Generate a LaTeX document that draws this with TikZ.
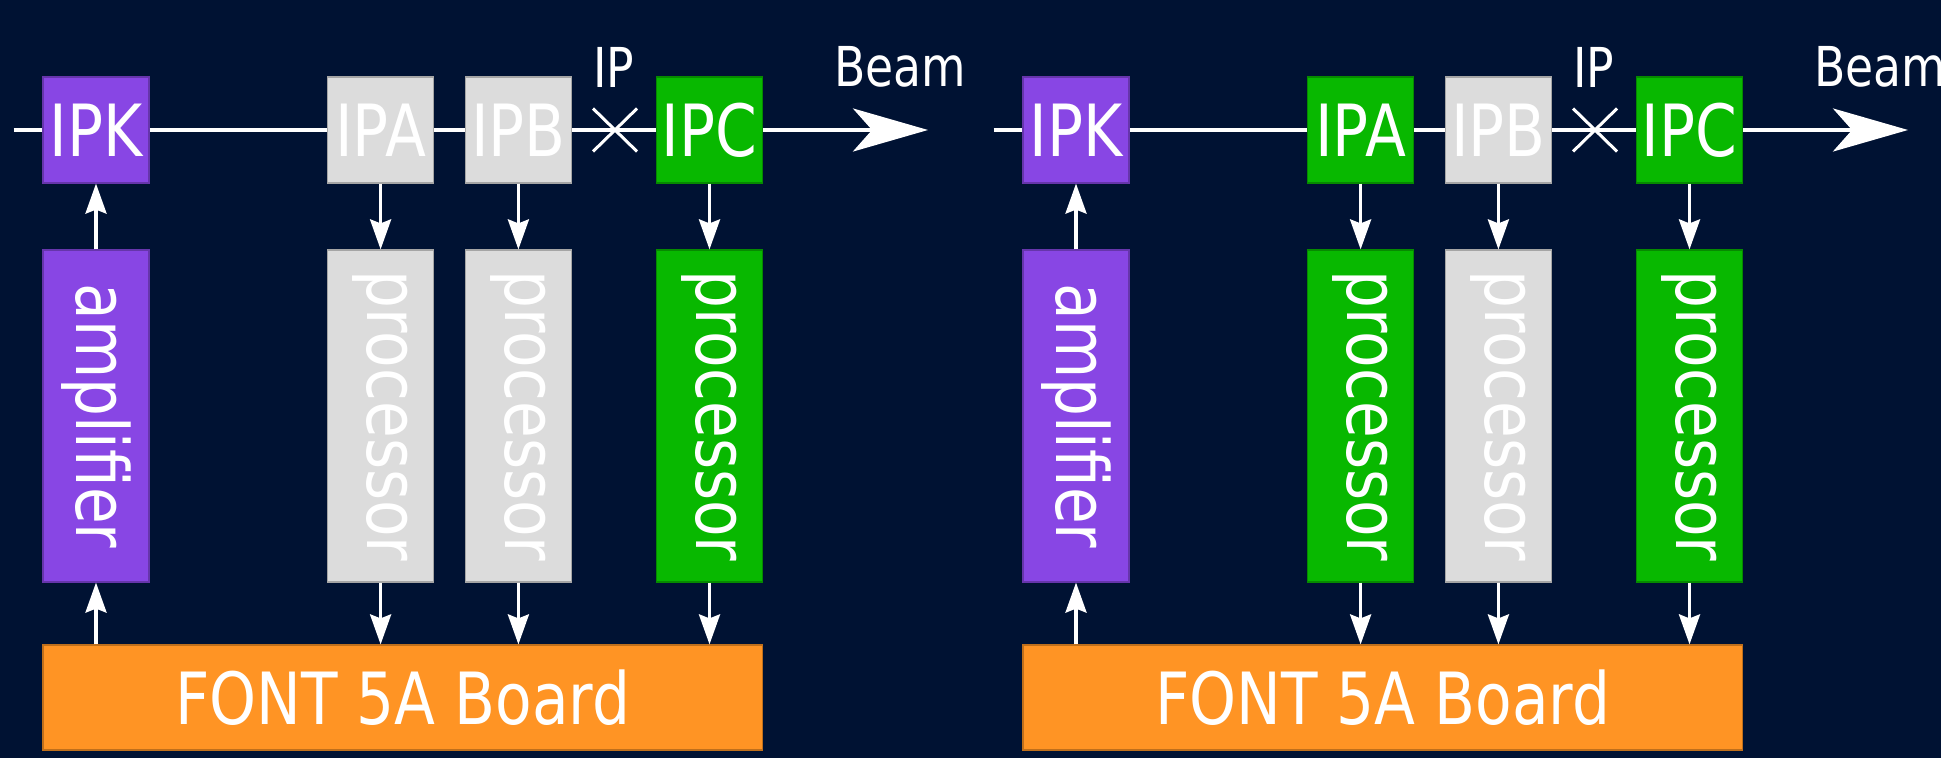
\documentclass[tikz,border=0pt]{standalone}
\usepackage{fontspec}
\setmainfont{DejaVu Sans}[FakeStretch=0.83]
\usetikzlibrary{arrows.meta,calc}
\definecolor{bg}{HTML}{001233}
\definecolor{ppl}{HTML}{8846E4}
\definecolor{grn}{HTML}{08B800}
\definecolor{gry}{HTML}{DCDCDC}
\definecolor{org}{HTML}{FF9424}
\newcommand\bigfont{\fontsize{36pt}{40pt}\selectfont}
\newcommand\smallfont{\fontsize{27.5pt}{30pt}\selectfont}
\tikzset{
  blk/.style={draw=#1!75!black, fill=#1, line width=0.6pt, text=white, inner sep=0pt, font=\bigfont},
  ipbox/.style={blk=#1, minimum width=53pt, minimum height=53pt},
  vbox/.style={blk=#1, minimum width=53pt, minimum height=166pt},
  beamline/.style={white, line width=2pt},
  sarr/.style={white, line width=1.75pt, -{Stealth[length=15pt,width=10.5pt,inset=2pt]}},
  barr/.style={white, line width=2pt, -{Stealth[length=37.5pt,width=21.5pt,inset=9.5pt]}},
  lbl/.style={text=white, font=\smallfont, inner sep=0pt},
  crossline/.style={white, line width=1.5pt},
}
\newcommand\fbpanel[5]{%
\begin{scope}[xshift=#2*0.5pt]
 \node[ipbox=ppl] (#1k) at (96,130) {IPK};
 \node[ipbox=#3] (#1a) at (380.6,130) {IPA};
 \node[ipbox=#4] (#1b) at (518.4,130) {IPB};
 \node[ipbox=#5] (#1c) at (709.5,130) {IPC};
 \node[vbox=ppl] (#1amp) at (96,416) {\rotatebox{-90}{amplifier}};
 \node[vbox=#3] (#1pa) at (380.6,416) {\rotatebox{-90}{processor}};
 \node[vbox=#4] (#1pb) at (518.4,416) {\rotatebox{-90}{processor}};
 \node[vbox=#5] (#1pc) at (709.5,416) {\rotatebox{-90}{processor}};
 \node[blk=org, minimum width=359.75pt, minimum height=52.5pt] (#1board) at (402.65,697.5) {FONT 5A Board};
 \coordinate (#1s) at (13.5,130);
 \coordinate (#1t) at (928,130);
 \draw[beamline] (#1s) -- (#1k);
 \draw[beamline] (#1k) -- (#1a);
 \draw[beamline] (#1a) -- (#1b);
 \draw[beamline] (#1b) -- (#1c);
 \draw[barr] (#1c) -- (#1t);
 \coordinate (#1x) at (615,130);
 \draw[crossline] ($(#1x)+(-22,-21.5)$) -- ($(#1x)+(22,21.5)$);
 \draw[crossline] ($(#1x)+(-22,21.5)$) -- ($(#1x)+(22,-21.5)$);
 \node[lbl] (#1ip) at (614,67) {IP};
 \node[lbl, anchor=west] (#1beam) at (834,67) {Beam};
 \draw[sarr] (#1amp) -- (#1k);
 \draw[sarr] (#1a) -- (#1pa);
 \draw[sarr] (#1b) -- (#1pb);
 \draw[sarr] (#1c) -- (#1pc);
 \draw[sarr] (#1amp |- #1board.north) -- (#1amp);
 \draw[sarr] (#1pa) -- (#1pa |- #1board.north);
 \draw[sarr] (#1pb) -- (#1pb |- #1board.north);
 \draw[sarr] (#1pc) -- (#1pc |- #1board.north);
\end{scope}}
\begin{document}
\begin{tikzpicture}[x=0.5pt,y=-0.5pt]
\useasboundingbox (0,0) rectangle (1941,758);
\fill[bg] (0,0) rectangle (1941,758);
\fbpanel{L}{0}{gry}{gry}{grn}
\fbpanel{R}{980}{grn}{gry}{grn}
\end{tikzpicture}
\end{document}
